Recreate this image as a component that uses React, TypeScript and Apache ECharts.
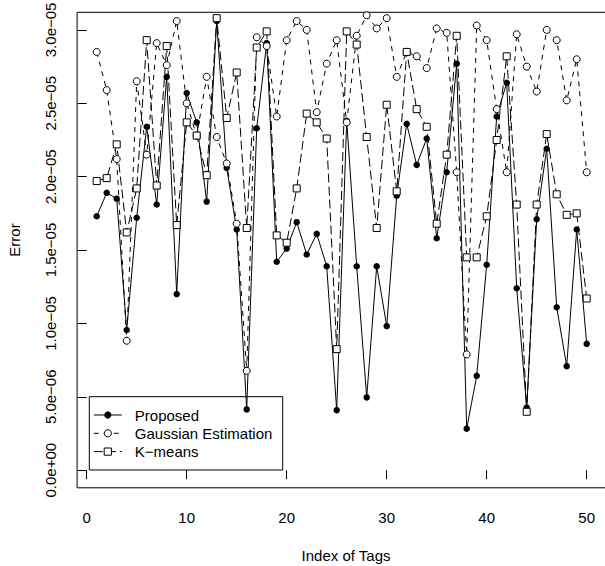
import React, { useEffect, useRef } from 'react';
import * as echarts from 'echarts';

// ---- Data ----
const tagIndex = [
  1, 2, 3, 4, 5, 6, 7, 8, 9, 10,
  11, 12, 13, 14, 15, 16, 17, 18, 19, 20,
  21, 22, 23, 24, 25, 26, 27, 28, 29, 30,
  31, 32, 33, 34, 35, 36, 37, 38, 39, 40,
  41, 42, 43, 44, 45, 46, 47, 48, 49, 50,
];

// values in units of 1e-5
const ERROR_UNIT = 1e-5;

const proposed = [
  1.73, 1.89, 1.85, 0.955, 1.72, 2.34, 1.81, 2.68, 1.20, 2.57,
  2.37, 1.83, 3.06, 2.06, 1.64, 0.414, 2.33, 2.91, 1.42, 1.51,
  1.69, 1.47, 1.61, 1.39, 0.409, 2.38, 1.39, 0.496, 1.39, 0.982,
  1.87, 2.36, 2.08, 2.26, 1.58, 2.03, 2.77, 0.283, 0.643, 1.40,
  2.41, 2.64, 1.24, 0.427, 1.71, 2.19, 1.11, 0.709, 1.64, 0.861,
];

const gaussian = [
  2.85, 2.59, 2.12, 0.882, 2.65, 2.15, 2.91, 2.76, 3.06, 2.50,
  2.28, 2.68, 2.27, 2.09, 1.68, 0.677, 2.95, 2.89, 2.41, 2.93,
  3.06, 3.00, 2.44, 2.77, 2.93, 2.37, 2.96, 3.10, 3.01, 3.08,
  2.68, 2.85, 2.82, 2.74, 3.01, 2.98, 2.03, 0.789, 3.03, 2.93,
  2.46, 2.03, 2.97, 2.75, 2.58, 3.00, 2.93, 2.52, 2.80, 2.03,
];

const kmeans = [
  1.97, 1.99, 2.22, 1.62, 1.92, 2.93, 1.94, 2.89, 1.67, 2.37,
  2.28, 2.01, 3.08, 2.40, 2.71, 1.65, 2.88, 2.99, 1.60, 1.55,
  1.92, 2.43, 2.37, 2.26, 0.825, 2.99, 2.90, 2.27, 1.65, 2.49,
  1.90, 2.85, 2.46, 2.34, 1.68, 2.15, 2.96, 1.45, 1.45, 1.73,
  2.25, 2.82, 1.81, 0.398, 1.81, 2.29, 1.88, 1.74, 1.75, 1.17,
];

const seriesNames = ['Proposed', 'Gaussian Estimation', 'K\u2212means'];

const xTickValues = [0, 10, 20, 30, 40, 50];
const xTickLabels = ['0', '10', '20', '30', '40', '50'];

const yTickValues = [0, 5e-6, 1e-5, 1.5e-5, 2e-5, 2.5e-5, 3e-5];
const yTickLabels = [
  '0.0e+00', '5.0e\u221206', '1.0e\u221205', '1.5e\u221205',
  '2.0e\u221205', '2.5e\u221205', '3.0e\u221205',
];

const xTitle = 'Index of Tags';
const yTitle = 'Error';

const FONT = '"Liberation Sans", Arial, Helvetica, sans-serif';

export default function App() {
  const ref = useRef<HTMLDivElement>(null);

  useEffect(() => {
    if (!ref.current) return;
    const chart = echarts.init(ref.current, null, { renderer: 'svg' });
    const toPairs = (vals: number[]) => tagIndex.map((x, i) => [x, vals[i] * ERROR_UNIT]);

    const xFmt = (v: number) => {
      const k = xTickValues.findIndex((t) => Math.abs(t - v) < 1e-9);
      return k >= 0 ? xTickLabels[k] : '';
    };
    const yFmt = (v: number) => {
      const k = yTickValues.findIndex((t) => Math.abs(t - v) < 1e-12);
      return k >= 0 ? yTickLabels[k] : '';
    };

    chart.setOption({
      animation: false,
      backgroundColor: '#ffffff',
      grid: {
        left: 77.1,
        top: 12.3,
        width: 529.2,
        height: 475.5,
        show: true,
        borderColor: '#000',
        borderWidth: 1,
        backgroundColor: 'transparent',
        containLabel: false,
        outerBoundsMode: 'none',
      },
      xAxis: {
        type: 'value',
        min: -0.96,
        max: 51.96,
        axisLine: { show: false },
        axisTick: {
          show: true,
          inside: false,
          length: 9,
          customValues: xTickValues,
          lineStyle: { color: '#000', width: 1 },
        },
        axisLabel: {
          customValues: xTickValues,
          formatter: xFmt,
          fontSize: 15,
          fontFamily: FONT,
          color: '#000',
          margin: 22,
        },
        splitLine: { show: false },
      },
      yAxis: {
        type: 'value',
        min: -1.2e-6,
        max: 3.12e-5,
        axisLine: { show: false },
        axisTick: {
          show: true,
          inside: false,
          length: 9,
          customValues: yTickValues,
          lineStyle: { color: '#000', width: 1 },
        },
        axisLabel: {
          customValues: yTickValues,
          formatter: yFmt,
          rotate: 90,
          fontSize: 15,
          fontFamily: FONT,
          color: '#000',
          margin: 19,
        },
        splitLine: { show: false },
      },
      legend: {
        orient: 'vertical',
        left: 93.3,
        top: 407.5,
        padding: 0,
        itemGap: 3.3,
        itemWidth: 28,
        itemHeight: 9,
        selectedMode: false,
        data: seriesNames,
        itemStyle: { borderWidth: 1 },
        lineStyle: { width: 1 },
        textStyle: {
          fontSize: 15,
          fontFamily: FONT,
          color: '#000',
          lineHeight: 15,
          padding: [0, 0, 0, 8],
        },
      },
      series: [
        {
          name: seriesNames[0],
          type: 'line',
          data: toPairs(proposed),
          symbol: 'circle',
          symbolSize: 6.5,
          lineStyle: { color: '#000', width: 1, type: 'solid' },
          itemStyle: { color: '#000' },
          emphasis: { disabled: true },
        },
        {
          name: seriesNames[1],
          type: 'line',
          data: toPairs(gaussian),
          symbol: 'circle',
          symbolSize: 7,
          lineStyle: { color: '#000', width: 1, type: [5, 5] },
          itemStyle: { color: '#fff', borderColor: '#000', borderWidth: 1 },
          emphasis: { disabled: true },
        },
        {
          name: seriesNames[2],
          type: 'line',
          data: toPairs(kmeans),
          symbol: 'rect',
          symbolSize: 7,
          lineStyle: { color: '#000', width: 1, type: [9, 4] },
          itemStyle: { color: '#fff', borderColor: '#000', borderWidth: 1 },
          emphasis: { disabled: true },
        },
      ],
      graphic: [
        {
          type: 'rect',
          shape: { x: 89.3, y: 396.7, width: 193.4, height: 73.3 },
          style: { fill: 'none', stroke: '#000', lineWidth: 1 },
          silent: true,
        },
        {
          type: 'text',
          x: 14,
          y: 240,
          rotation: Math.PI / 2,
          style: {
            text: yTitle,
            fontSize: 15,
            fontFamily: FONT,
            fill: '#000',
            align: 'center',
            verticalAlign: 'middle',
          },
          silent: true,
        },
        {
          type: 'text',
          x: 346,
          y: 555,
          style: {
            text: xTitle,
            fontSize: 15,
            fontFamily: FONT,
            fill: '#000',
            align: 'center',
            verticalAlign: 'middle',
          },
          silent: true,
        },
      ],
    });

    return () => chart.dispose();
  }, []);

  return (
    <div
      ref={ref}
      style={{ position: 'fixed', left: 0, top: 0, width: 605, height: 566, background: '#fff' }}
    />
  );
}
